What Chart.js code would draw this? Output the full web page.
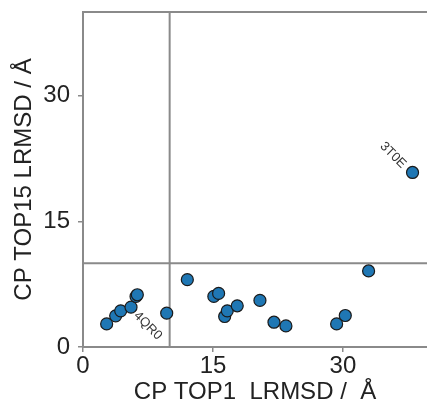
<!DOCTYPE html>
<html>
<head>
<meta charset="utf-8">
<script src="https://cdn.jsdelivr.net/npm/chart.js@4"></script>
<style>
  html, body { margin: 0; padding: 0; background: #fff; }
  #wrap { width: 427px; height: 407px; }
</style>
</head>
<body>
<div id="wrap"><canvas id="chartCanvas" width="427" height="407"></canvas></div>
<script>
// values
const top1 = [2.73, 3.77, 4.35, 5.54, 6.12, 6.27, 9.66, 12.04, 15.1, 15.65, 16.35, 16.65, 17.8, 20.42, 22.04, 23.42, 29.27, 30.27, 32.96, 38.03];
const top15 = [2.76, 3.72, 4.32, 4.76, 6.04, 6.24, 4.04, 8.04, 6.04, 6.4, 3.64, 4.32, 4.92, 5.56, 2.96, 2.52, 2.76, 3.76, 9.08, 20.84];
const tickValues = [0, 15, 30];
const cutoff = 10;
const labelNames = ["4QR0", "3T0E"];
const labelX = [6.1, 37.04];
const labelY = [3.96, 21.6];
const labelAlign = ["left", "right"];

const font = "'Liberation Sans', Arial, sans-serif";
const axisGray = "#8a8a8a";

const points = top1.map((x, i) => ({ x: x, y: top15[i] }));

function noPad(s) {
    s.paddingLeft = 0;
    s.paddingRight = 0;
    s.paddingTop = 0;
    s.paddingBottom = 0;
}

const extraLines = {
    id: "extraLines",
    beforeDatasetsDraw(chart) {
        const ctx = chart.ctx;
        const area = chart.chartArea;
        const xs = chart.scales.x;
        const ys = chart.scales.y;
        ctx.save();
        ctx.strokeStyle = axisGray;
        ctx.lineWidth = 2;
        ctx.beginPath();
        // top spine
        ctx.moveTo(area.left - 1, area.top);
        ctx.lineTo(area.right, area.top);
        // cutoff lines
        const px = xs.getPixelForValue(cutoff);
        ctx.moveTo(px, area.top);
        ctx.lineTo(px, area.bottom);
        const py = ys.getPixelForValue(cutoff);
        ctx.moveTo(area.left, py);
        ctx.lineTo(area.right, py);
        ctx.stroke();
        ctx.restore();
    },
    afterDatasetsDraw(chart) {
        const ctx = chart.ctx;
        const xs = chart.scales.x;
        const ys = chart.scales.y;
        ctx.save();
        ctx.fillStyle = "#333";
        ctx.font = "13px " + font;
        labelNames.forEach((name, i) => {
            ctx.save();
            ctx.translate(xs.getPixelForValue(labelX[i]), ys.getPixelForValue(labelY[i]));
            ctx.rotate(Math.PI / 4);
            ctx.textAlign = labelAlign[i];
            ctx.textBaseline = "middle";
            ctx.fillText(name, 0, 0);
            ctx.restore();
        });
        ctx.restore();
    }
};

new Chart(document.getElementById("chartCanvas"), {
    type: "scatter",
    data: {
        datasets: [{
            data: points,
            backgroundColor: "#1f77b4",
            borderColor: "#1a1a1a",
            borderWidth: 1.2,
            pointRadius: 6,
            pointHoverRadius: 6
        }]
    },
    options: {
        responsive: false,
        animation: false,
        layout: { autoPadding: false, padding: { top: 12, right: 0, left: 0, bottom: 0 } },
        plugins: { legend: { display: false }, tooltip: { enabled: false } },
        scales: {
            x: {
                type: "linear",
                min: 0,
                max: 39.7,
                afterBuildTicks: s => { s.ticks = tickValues.map(v => ({ value: v })); },
                afterFit: s => { s.height = 60; noPad(s); },
                grid: { drawOnChartArea: false, drawTicks: true, tickLength: 5, color: axisGray, lineWidth: 1.5 },
                border: { display: true, color: axisGray, width: 2 },
                ticks: { color: "#222", font: { family: font, size: 24 }, padding: 0, maxRotation: 0 },
                title: { display: true, text: "CP TOP1  LRMSD /  Å", color: "#222", font: { family: font, size: 24 }, padding: { top: 0, bottom: 0 } }
            },
            y: {
                type: "linear",
                min: 0,
                max: 40,
                afterBuildTicks: s => { s.ticks = tickValues.map(v => ({ value: v })); },
                afterFit: s => { s.width = 83; noPad(s); },
                grid: { drawOnChartArea: false, drawTicks: true, tickLength: 5, color: axisGray, lineWidth: 1.5 },
                border: { display: true, color: axisGray, width: 2 },
                ticks: { color: "#222", font: { family: font, size: 24 }, padding: 8 },
                title: { display: true, text: "CP TOP15 LRMSD / Å", color: "#222", font: { family: font, size: 24 }, padding: { top: 10, bottom: 0 } }
            }
        }
    },
    plugins: [extraLines]
});
</script>
</body>
</html>
